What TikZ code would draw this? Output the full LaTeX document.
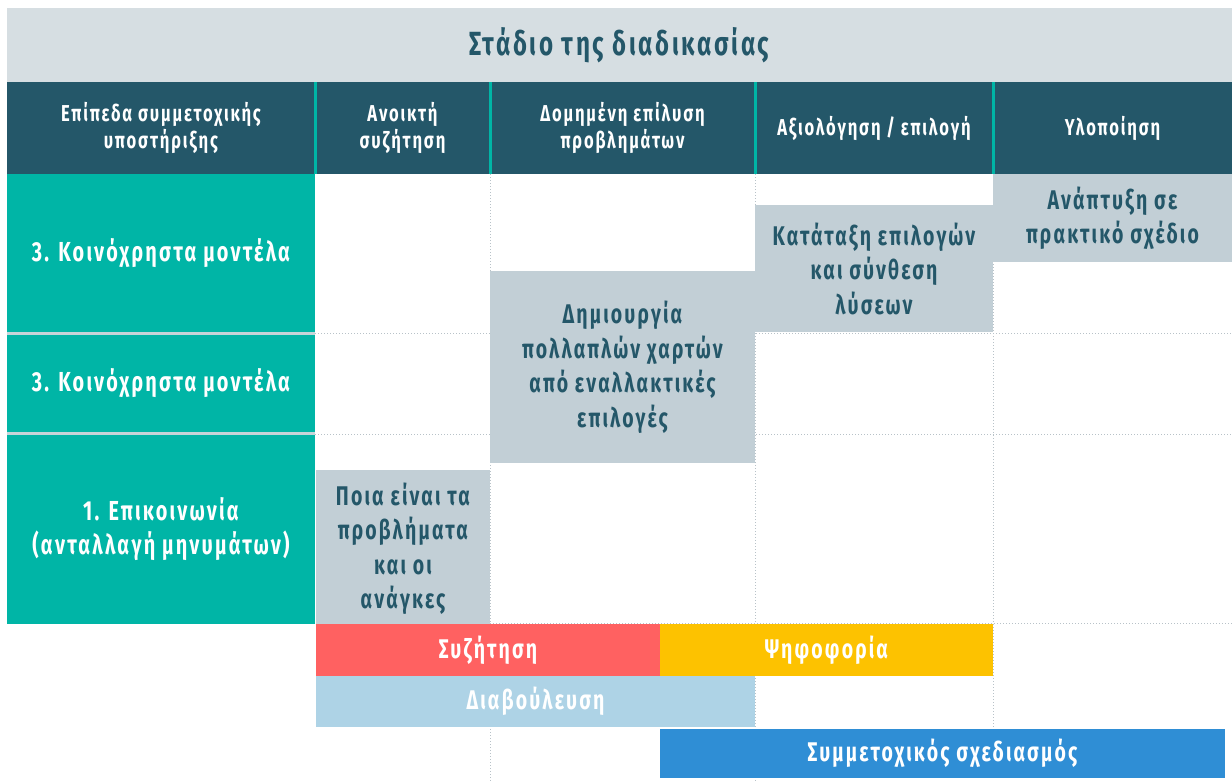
\documentclass[tikz,border=0pt]{standalone}
\usepackage{fontspec}
\setmainfont{Fira Sans}[FakeStretch=0.72, LetterSpace=8]
\usetikzlibrary{positioning}
\definecolor{titlegray}{RGB}{214,222,226}
\definecolor{headteal}{RGB}{36,87,105}
\definecolor{levelteal}{RGB}{0,181,166}
\definecolor{sepgray}{RGB}{197,212,216}
\definecolor{stepgray}{RGB}{194,207,214}
\definecolor{dotgray}{RGB}{184,194,200}
\definecolor{talkred}{RGB}{255,97,97}
\definecolor{voteyellow}{RGB}{253,194,0}
\definecolor{consultblue}{RGB}{174,211,230}
\definecolor{designblue}{RGB}{47,142,213}
\tikzset{
  cell/.style={rectangle, anchor=north west, inner sep=0pt, outer sep=0pt,
    align=center, font=\bfseries\fontsize{23}{27}\selectfont},
  titlecell/.style={cell, fill=titlegray, text=headteal,
    font=\bfseries\fontsize{33.5}{36}\selectfont},
  headcell/.style={cell, fill=headteal, text=white},
  levelbox/.style={cell, fill=levelteal, text=white,
    font=\bfseries\fontsize{27.5}{34}\selectfont},
  stagebox/.style={cell, fill=stepgray, text=headteal,
    font=\bfseries\fontsize{27}{34.5}\selectfont},
  barbox/.style={cell, text=white, font=\bfseries\fontsize{27}{30}\selectfont},
  gridline/.style={dotgray, dotted, line width=1pt},
  headsep/.style={levelteal, line width=3pt},
}

\begin{document}
\begin{tikzpicture}[x=1pt, y=-1pt]
  \useasboundingbox (0,0) rectangle (1232,782);

  % Grid
  \draw[gridline] (315,333) -- (1232,333);
  \draw[gridline] (315,434) -- (1232,434);
  \draw[gridline] (490,623) -- (1232,623);
  \draw[gridline] (490,174) -- (490,782);
  \draw[gridline] (755,174) -- (755,782);
  \draw[gridline] (993,174) -- (993,729);

  % Title and column heads
  \node[titlecell, minimum width=1225pt, minimum height=74pt] (title) at (7,8)
    {Στάδιο της διαδικασίας};
  \node[headcell, minimum width=308pt, minimum height=92pt] (hlevel) at (7,82)
    {Επίπεδα συμμετοχικής\\υποστήριξης};
  \node[headcell, minimum width=175pt, minimum height=92pt] (hopen) at (315,82)
    {Ανοικτή\\συζήτηση};
  \node[headcell, minimum width=265pt, minimum height=92pt] (hsolve) at (490,82)
    {Δομημένη επίλυση\\προβλημάτων};
  \node[headcell, minimum width=238pt, minimum height=92pt] (hchoose) at (755,82)
    {Αξιολόγηση / επιλογή};
  \node[headcell, minimum width=239pt, minimum height=92pt] (hbuild) at (993,82)
    {Υλοποίηση};
  \draw[headsep] (hopen.north west) -- (hopen.south west);
  \draw[headsep] (hsolve.north west) -- (hsolve.south west);
  \draw[headsep] (hchoose.north west) -- (hchoose.south west);
  \draw[headsep] (hbuild.north west) -- (hbuild.south west);

  % Levels
  \fill[sepgray] (7,174) rectangle (315,624);
  \node[levelbox, minimum width=308pt, minimum height=158pt] (models) at (7,174)
    {3. Κοινόχρηστα μοντέλα};
  \node[levelbox, minimum width=308pt, minimum height=97pt] (models2) at (7,335)
    {3. Κοινόχρηστα μοντέλα};
  \node[levelbox, minimum width=308pt, minimum height=189pt] (comms) at (7,435)
    {1. Επικοινωνία\\(ανταλλαγή μηνυμάτων)};

  % Stages
  \node[stagebox, minimum width=174pt, minimum height=157pt] (needs) at (316,470)
    {Ποια είναι τα\\προβλήματα\\και οι\\ανάγκες};
  \node[stagebox, minimum width=265pt, minimum height=192pt] (maps) at (490,271)
    {Δημιουργία\\πολλαπλών χαρτών\\από εναλλακτικές\\επιλογές};
  \node[stagebox, minimum width=238pt, minimum height=127pt] (rank) at (755,205)
    {Κατάταξη επιλογών\\και σύνθεση\\λύσεων};
  \node[stagebox, minimum width=239pt, minimum height=88pt] (plan) at (993,174)
    {Ανάπτυξη σε\\πρακτικό σχέδιο};

  % Methods
  \node[barbox, fill=talkred, minimum width=344pt, minimum height=52pt] (talk) at (316,624)
    {Συζήτηση};
  \node[barbox, fill=voteyellow, minimum width=333pt, minimum height=52pt] (vote) at (660,624)
    {Ψηφοφορία};
  \node[barbox, fill=consultblue, minimum width=439pt, minimum height=51pt] (consult) at (316,676)
    {Διαβούλευση};
  \node[barbox, fill=designblue, minimum width=565pt, minimum height=49pt] (design) at (660,729)
    {Συμμετοχικός σχεδιασμός};
\end{tikzpicture}
\end{document}
